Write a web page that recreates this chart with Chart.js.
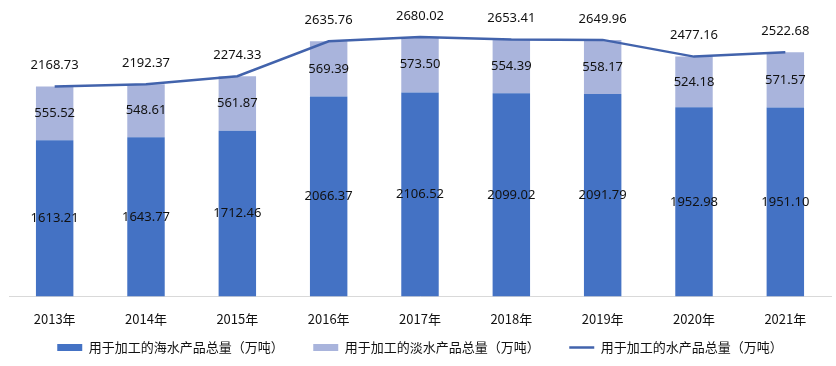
<!DOCTYPE html>
<html><head><meta charset="utf-8">
<script src="https://cdn.jsdelivr.net/npm/chart.js@4/dist/chart.umd.min.js"></script>
<style>html,body{margin:0;padding:0;background:#fff}#wrap{width:836px;height:366px}</style>
</head><body><div id="wrap"><canvas id="c" width="836" height="366"></canvas></div>
<script>
const categories = ['2013年','2014年','2015年','2016年','2017年','2018年','2019年','2020年','2021年'];
const seaValues = [1613.21,1643.77,1712.46,2066.37,2106.52,2099.02,2091.79,1952.98,1951.10];
const freshValues = [555.52,548.61,561.87,569.39,573.50,554.39,558.17,524.18,571.57];
const totalValues = [2168.73,2192.37,2274.33,2635.76,2680.02,2653.41,2649.96,2477.16,2522.68];
const seriesNames = ['用于加工的海水产品总量（万吨）','用于加工的淡水产品总量（万吨）','用于加工的水产品总量（万吨）'];

const NUM_FONT = '13px "Noto Sans", "Noto Sans CJK SC", sans-serif';
const valueLabels = {
  id: 'valueLabels',
  afterDatasetsDraw(chart) {
    const ctx = chart.ctx;
    ctx.save();
    ctx.font = NUM_FONT;
    ctx.fillStyle = '#111';
    ctx.textAlign = 'center';
    ctx.textBaseline = 'middle';
    chart.data.datasets.forEach((ds, i) => {
      const meta = chart.getDatasetMeta(i);
      meta.data.forEach((el, j) => {
        const v = ds.data[j];
        const y = ds.type === 'line' ? el.y - 21 : (el.y + el.base) / 2;
        ctx.fillText(v.toFixed(2), el.x, y);
      });
    });
    ctx.restore();
  }
};

new Chart(document.getElementById('c'), {
  data: {
    labels: categories,
    datasets: [
      { type: 'bar', label: seriesNames[0], data: seaValues, backgroundColor: '#4472C4', order: 1,
        categoryPercentage: 1, barPercentage: 0.41 },
      { type: 'bar', label: seriesNames[1], data: freshValues, backgroundColor: '#A9B4DC', order: 1,
        categoryPercentage: 1, barPercentage: 0.41 },
      { type: 'line', label: seriesNames[2], data: totalValues, borderColor: '#4263AC', backgroundColor: '#4263AC',
        borderWidth: 2.5, pointRadius: 0, tension: 0, order: 0 }
    ]
  },
  options: {
    responsive: false,
    animation: false,
    devicePixelRatio: 1,
    layout: { padding: { left: 9, right: 5, top: 6, bottom: 2 } },
    scales: {
      x: { stacked: true, grid: { display: false, drawTicks: false },
           border: { display: true, color: '#D9D9D9', width: 1 },
           ticks: { color: '#111', padding: 15, font: { family: '"Noto Sans CJK SC", sans-serif', size: 13 } },
           afterFit(scale) { scale.height -= 11; } },
      y: { stacked: true, display: false, min: 0, max: 3000 }
    },
    plugins: {
      tooltip: { enabled: false },
      legend: {
        position: 'bottom',
        labels: {
          color: '#111',
          font: { family: '"Noto Sans CJK SC", sans-serif', size: 13 },
          usePointStyle: true,
          pointStyleWidth: 25,
          boxHeight: 7,
          padding: 10,
          generateLabels(chart) {
            const n = chart.data.datasets.length;
            return chart.data.datasets.map((ds, i) => ({
              text: i < n - 1 ? ds.label + '\u3000\u3000' : ds.label,
              fillStyle: ds.backgroundColor,
              strokeStyle: ds.type === 'line' ? ds.borderColor : ds.backgroundColor,
              lineWidth: ds.type === 'line' ? 2.5 : 0,
              pointStyle: ds.type === 'line' ? 'line' : 'rect',
              hidden: false,
              datasetIndex: i,
              fontColor: '#111'
            }));
          }
        }
      }
    }
  },
  plugins: [valueLabels]
});
</script>
</body></html>
